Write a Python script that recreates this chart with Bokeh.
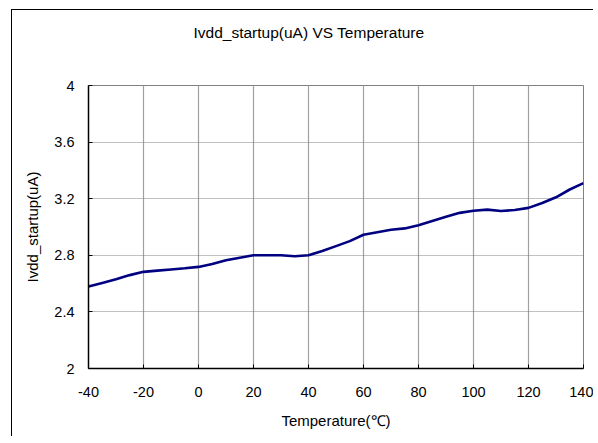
from bokeh.plotting import figure
from bokeh.models import FixedTicker, Range1d, Title
from bokeh.embed import file_html
from bokeh.resources import INLINE

temperature = [-40, -35, -30, -25, -20, -15, -10, -5, 0, 5, 10, 15, 20, 25, 30, 35, 40,
               45, 50, 55, 60, 65, 70, 75, 80, 85, 90, 95, 100, 105, 110, 115, 120,
               125, 130, 135, 140]
ivdd_startup = [2.58, 2.605, 2.63, 2.66, 2.683, 2.692, 2.70, 2.708, 2.718, 2.738, 2.765,
                2.783, 2.80, 2.80, 2.80, 2.793, 2.80, 2.83, 2.865, 2.90, 2.945, 2.963,
                2.98, 2.99, 3.012, 3.042, 3.072, 3.10, 3.115, 3.123, 3.113, 3.12, 3.135,
                3.17, 3.21, 3.265, 3.31]
x_ticks = [-40, -20, 0, 20, 40, 60, 80, 100, 120, 140]
x_tick_labels = {-40: "-40", -20: "-20", 0: "0", 20: "20", 40: "40", 60: "60",
                 80: "80", 100: "100", 120: "120", 140: "140"}
y_ticks = [2, 2.4, 2.8, 3.2, 3.6, 4]
y_tick_labels = {2: "2", 2.4: "2.4", 2.8: "2.8", 3.2: "3.2", 3.6: "3.6", 4: "4"}
title_text = "Ivdd_startup(uA) VS Temperature"
x_label = "Temperature(℃)"
y_label = "Ivdd_startup(uA)"

FONT = "Liberation Sans"

p = figure(frame_width=495, frame_height=283,
           output_backend="svg", toolbar_location=None,
           x_range=Range1d(-40, 140), y_range=Range1d(2, 4),
           min_border_left=76, min_border_right=10, min_border_top=75, min_border_bottom=68)
p.styles = {"margin-left": "11px", "margin-top": "9px",
            "border-left": "1px solid black", "border-top": "1px solid black"}

p.line(temperature, ivdd_startup, line_color="#000080", line_width=2.6)

p.outline_line_color = "#808080"
p.outline_line_width = 1

p.title.text = ""
spacer = Title(text=" ", text_font_size="2px", standoff=41)
main_title = Title(text=title_text, align="left", offset=105, standoff=0,
                   vertical_align="bottom", text_font=FONT, text_font_size="15.5px",
                   text_font_style="normal", text_color="black")
p.add_layout(spacer, "above")
p.add_layout(main_title, "above")

for ax in (p.xaxis[0], p.yaxis[0]):
    ax.axis_line_color = "black"
    ax.axis_line_width = 1.5
    ax.major_tick_in = 4
    ax.major_tick_out = 0
    ax.major_tick_line_color = "black"
    ax.minor_tick_line_color = None
    ax.major_label_text_font = FONT
    ax.major_label_text_font_size = "14.5px"
    ax.major_label_text_color = "black"
    ax.axis_label_text_font = FONT
    ax.axis_label_text_font_size = "15px"
    ax.axis_label_text_font_style = "normal"
    ax.axis_label_text_color = "black"

p.xaxis.ticker = FixedTicker(ticks=x_ticks)
p.yaxis.ticker = FixedTicker(ticks=y_ticks)
p.xaxis.major_label_overrides = x_tick_labels
p.yaxis.major_label_overrides = y_tick_labels
p.xaxis.major_label_standoff = 18
p.yaxis.major_label_standoff = 14
p.xaxis.axis_label = x_label
p.yaxis.axis_label = y_label
p.xaxis.axis_label_standoff = 12
p.yaxis.axis_label_standoff = 10

p.xgrid.grid_line_color = "#a0a0a0"
p.xgrid.grid_line_width = 1.2
p.ygrid.grid_line_color = "#808080"
p.ygrid.grid_line_width = 1
p.ygrid.grid_line_dash = "1 1"

open("out.html", "w").write(file_html(p, INLINE))
